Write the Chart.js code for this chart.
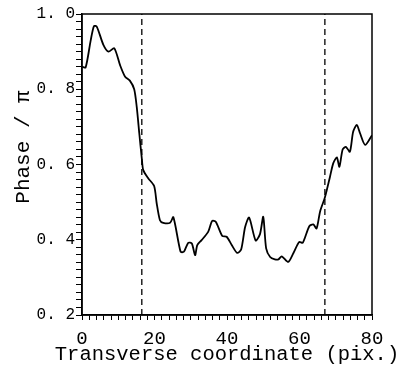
<!DOCTYPE html>
<html>
<head>
<meta charset="utf-8">
<script src="https://cdn.jsdelivr.net/npm/chart.js@4/dist/chart.umd.min.js"></script>
<style>
    html, body { margin: 0; padding: 0; background: #fff; }
    #wrap { width: 400px; height: 372px; }
</style>
</head>
<body>
<div id="wrap"><canvas id="chart" width="400" height="372"></canvas></div>
<script>
// transverse coordinate (pix.)
const xs = [0, 1, 2.4, 3.3, 4.1, 5.9, 7.3, 8.9, 10.5, 11.9, 13.2, 14.4, 15.1, 15.8, 16.5, 16.9,
    18.3, 19.9, 20.6, 21.5, 22.4, 24.3, 25.2, 27.2, 28.1, 29.3, 30.3, 31.2, 31.8, 33.0, 34.8,
    35.9, 36.9, 38.7, 39.9, 41.3, 42.8, 43.9, 45.0, 46.1, 47.9, 49.1, 50.0, 50.8, 51.9, 53.2,
    54.2, 55.1, 56.9, 58.3, 59.9, 60.9, 62.7, 63.8, 64.7, 65.7, 67.0, 68.4, 69.3, 70.3, 71.0,
    71.9, 72.8, 73.9, 74.8, 75.8, 76.7, 78.1, 80];
// phase / pi
const phase = [0.86, 0.858, 0.93, 0.968, 0.966, 0.918, 0.90, 0.909, 0.864, 0.833, 0.823, 0.80, 0.753, 0.683, 0.616, 0.585,
    0.563, 0.543, 0.497, 0.452, 0.445, 0.445, 0.46, 0.368, 0.368, 0.392, 0.39, 0.359, 0.386, 0.399, 0.421,
    0.45, 0.448, 0.41, 0.408, 0.386, 0.365, 0.374, 0.434, 0.459, 0.398, 0.415, 0.461, 0.377, 0.354, 0.348,
    0.348, 0.356, 0.341, 0.364, 0.394, 0.392, 0.436, 0.441, 0.43, 0.476, 0.512, 0.567, 0.603, 0.619, 0.594,
    0.64, 0.647, 0.634, 0.687, 0.705, 0.683, 0.652, 0.678];
// dashed markers
const markerXs = [16.5, 67];

const yMin = 0.2, yMax = 1.0;
const FONT = "'Liberation Mono', 'DejaVu Sans Mono', monospace";
const xTitle = 'Transverse coordinate (pix.)';
const yTitle = 'Phase / \u03c0';

let datasets = [{
    data: xs.map((x, i) => ({ x: x, y: phase[i] })),
    borderColor: '#000',
    borderWidth: 1.8,
    pointRadius: 0,
    tension: 0.25,
    fill: false
}];
markerXs.forEach(mx => {
    datasets.push({
        data: [{ x: mx, y: yMin }, { x: mx, y: yMax }],
        borderColor: '#000',
        borderWidth: 1.3,
        borderDash: [6, 4],
        pointRadius: 0,
        fill: false
    });
});

// frame + axis titles (chart.js squeezes the x title into the axis width)
const framePlugin = {
    id: 'frame',
    afterDraw(chart) {
        const ctx = chart.ctx;
        const a = chart.chartArea;
        ctx.save();
        ctx.strokeStyle = '#000';
        ctx.lineWidth = 1.5;
        ctx.strokeRect(a.left, a.top, a.right - a.left, a.bottom - a.top);

        ctx.fillStyle = '#000';
        ctx.textAlign = 'center';
        ctx.textBaseline = 'middle';
        ctx.font = '20.5px ' + FONT;
        ctx.fillText(xTitle, (a.left + a.right) / 2, 355);

        ctx.translate(23, 147);
        ctx.rotate(-Math.PI / 2);
        ctx.font = '21px ' + FONT;
        ctx.fillText(yTitle, 0, 0);
        ctx.restore();
    }
};

const config = {
    type: 'line',
    data: { datasets: datasets },
    plugins: [framePlugin],
    options: {
        responsive: false,
        animation: false,
        layout: { padding: { left: 0, top: 14, right: 28, bottom: 0 } },
        plugins: {
            legend: { display: false },
            tooltip: { enabled: false }
        },
        scales: {
            x: {
                type: 'linear',
                min: 0,
                max: 80,
                afterFit: s => { s.height = 57; },
                border: { color: '#000', width: 1.5 },
                grid: { drawOnChartArea: false, color: '#000', tickLength: 5, lineWidth: 1 },
                ticks: {
                    stepSize: 2,
                    autoSkip: false,
                    maxRotation: 0,
                    padding: 8,
                    color: '#000',
                    font: { family: FONT, size: 19 },
                    callback: v => (v % 20 === 0 ? String(v) : '')
                }
            },
            y: {
                min: yMin,
                max: yMax,
                afterFit: s => { s.width = 82; },
                border: { color: '#000', width: 1.5 },
                grid: { drawOnChartArea: false, color: '#000', tickLength: 6, lineWidth: 1 },
                ticks: {
                    stepSize: 0.02,
                    autoSkip: false,
                    padding: 1,
                    color: '#000',
                    font: { family: FONT, size: 16 },
                    callback: v => {
                        let k = v * 5;
                        if (Math.abs(k - Math.round(k)) > 1e-6) return '';
                        return v.toFixed(1).replace('.', '. ');
                    }
                }
            }
        }
    }
};

new Chart(document.getElementById('chart'), config);
</script>
</body>
</html>
